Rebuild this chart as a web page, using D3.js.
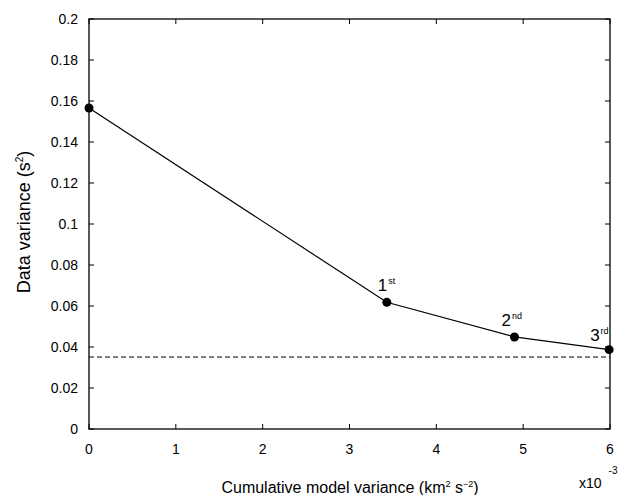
<!DOCTYPE html>
<html>
<head>
<meta charset="utf-8">
<script src="https://cdn.jsdelivr.net/npm/d3@7"></script>
<style>
  body { margin: 0; background: #fff; }
  svg text { font-family: "Liberation Sans", Arial, sans-serif; fill: #000; }
</style>
</head>
<body>
<div id="main"></div>
<script>
const xValues = [0, 3.43, 4.9, 5.99];
const yValues = [0.1566, 0.0618, 0.0449, 0.0387];
const pointLabels = [null, ['1', 'st'], ['2', 'nd'], ['3', 'rd']];
const dashedLevel = 0.0351;
const xTicks = [0, 1, 2, 3, 4, 5, 6];
const yTicks = [0, 0.02, 0.04, 0.06, 0.08, 0.1, 0.12, 0.14, 0.16, 0.18, 0.2];

const width = 621, height = 495;
const margin = { left: 89, right: 11, top: 19, bottom: 66 };

const svg = d3.select('#main').append('svg')
    .attr('width', width).attr('height', height);

const x = d3.scaleLinear().domain([0, 6]).range([margin.left, width - margin.right]);
const y = d3.scaleLinear().domain([0, 0.2]).range([height - margin.bottom, margin.top]);

// frame
svg.append('rect')
    .attr('x', x(0)).attr('y', y(0.2))
    .attr('width', x(6) - x(0)).attr('height', y(0) - y(0.2))
    .attr('fill', 'none').attr('stroke', '#000').attr('stroke-width', 1.3);

const tickLen = 5;
// x ticks (bottom + top)
xTicks.forEach(t => {
  svg.append('line').attr('x1', x(t)).attr('x2', x(t))
    .attr('y1', y(0)).attr('y2', y(0) - tickLen).attr('stroke', '#000');
  svg.append('line').attr('x1', x(t)).attr('x2', x(t))
    .attr('y1', y(0.2)).attr('y2', y(0.2) + tickLen).attr('stroke', '#000');
  svg.append('text').attr('x', x(t)).attr('y', y(0) + 25)
    .attr('text-anchor', 'middle').style('font-size', '14px').text(t);
});
// y ticks (left + right)
yTicks.forEach(t => {
  svg.append('line').attr('x1', x(0)).attr('x2', x(0) + tickLen)
    .attr('y1', y(t)).attr('y2', y(t)).attr('stroke', '#000');
  svg.append('line').attr('x1', x(6)).attr('x2', x(6) - tickLen)
    .attr('y1', y(t)).attr('y2', y(t)).attr('stroke', '#000');
  svg.append('text').attr('x', x(0) - 11).attr('y', y(t) + 5)
    .attr('text-anchor', 'end').style('font-size', '14px').text(t);
});

// dashed reference line
svg.append('line')
    .attr('x1', x(0)).attr('x2', x(6))
    .attr('y1', y(dashedLevel)).attr('y2', y(dashedLevel))
    .attr('stroke', '#000').attr('stroke-dasharray', '5,3');

const pts = xValues.map((v, i) => [v, yValues[i]]);
svg.append('path')
    .datum(pts)
    .attr('d', d3.line().x(d => x(d[0])).y(d => y(d[1])))
    .attr('fill', 'none').attr('stroke', '#000').attr('stroke-width', 1.2);

svg.selectAll('circle.pt').data(pts).enter().append('circle')
    .attr('class', 'pt')
    .attr('cx', d => x(d[0])).attr('cy', d => y(d[1]))
    .attr('r', 4.5).attr('fill', '#000');

// ordinal labels (offsets relative to each point)
const labelDx = [0, -9, -13, -19];
const labelDy = [0, -11, -11, -9];
pts.forEach((d, i) => {
  if (!pointLabels[i]) return;
  const t = svg.append('text')
      .attr('x', x(d[0]) + labelDx[i]).attr('y', y(d[1]) + labelDy[i])
      .style('font-size', '17px');
  t.append('tspan').text(pointLabels[i][0]);
  t.append('tspan').attr('dx', 1).attr('dy', -7).style('font-size', '9px').text(pointLabels[i][1]);
});

// axis titles
const xt = svg.append('text').attr('x', 350).attr('y', 493)
    .attr('text-anchor', 'middle').style('font-size', '16px');
xt.append('tspan').text('Cumulative model variance (km');
xt.append('tspan').attr('dy', -6).style('font-size', '9px').text('2');
xt.append('tspan').attr('dy', 6).text(' s');
xt.append('tspan').attr('dy', -6).style('font-size', '9px').text('\u22122');
xt.append('tspan').attr('dy', 6).text(')');

const yt = svg.append('text')
    .attr('transform', 'translate(30,222) rotate(-90)')
    .attr('text-anchor', 'middle').style('font-size', '18px');
yt.append('tspan').text('Data variance (s');
yt.append('tspan').attr('dy', -7).style('font-size', '10px').text('2');
yt.append('tspan').attr('dy', 7).text(')');

// exponent label
const ex = svg.append('text').attr('x', 579).attr('y', 488).style('font-size', '14px');
ex.append('tspan').text('x10');
ex.append('tspan').attr('dx', 7).attr('dy', -14).style('font-size', '10px').text('-3');
</script>
</body>
</html>
